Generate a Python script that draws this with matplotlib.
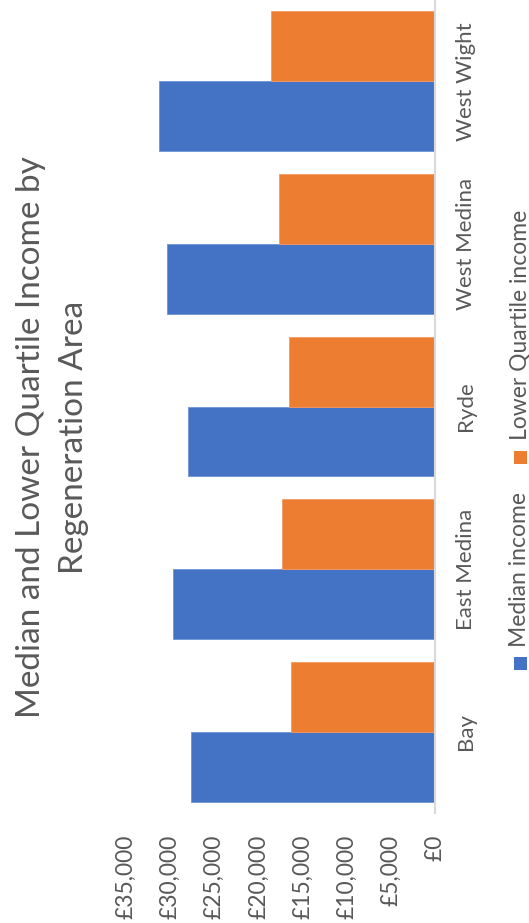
import matplotlib
matplotlib.use("Agg")
import matplotlib.pyplot as plt
from matplotlib.patches import Rectangle
import numpy as np

categories = ["Bay", "East Medina", "Ryde", "West Medina", "West Wight"]
median_income = [27650, 29650, 27950, 30300, 31250]
lower_quartile_income = [16350, 17300, 16550, 17650, 18600]
series_names = ["Median income", "Lower Quartile income"]
xticks = [0, 5000, 10000, 15000, 20000, 25000, 30000, 35000]
xtick_labels = ["£0", "£5,000", "£10,000", "£15,000", "£20,000", "£25,000", "£30,000", "£35,000"]
title_lines = ["Median and Lower Quartile Income by", "Regeneration Area"]

BLUE = "#4472C4"
ORANGE = "#ED7D31"
TXT = "#595959"
FONT = ["Lato", "DejaVu Sans"]
plt.rcParams["font.family"] = FONT

W, H = 529, 923
fig = plt.figure(figsize=(W / 100, H / 100), dpi=100)
ax = fig.add_axes([126 / W, 1 - 813 / H, (435 - 126) / W, 813 / H])

y = np.arange(len(categories))
h = 0.43
ax.barh(y - h / 2, median_income, height=h, color=BLUE, edgecolor="#6f93d6", linewidth=0.6)
ax.barh(y + h / 2, lower_quartile_income, height=h, color=ORANGE, edgecolor="#f29a62", linewidth=0.6)

ax.set_xlim(35000, 0)
ax.set_ylim(-0.5, len(categories) - 0.5)
ax.set_xticks(xticks)
ax.set_xticklabels(xtick_labels, rotation=90, fontsize=16.5, color=TXT)
ax.set_yticks(y)
ax.set_yticklabels(categories, rotation=90, fontsize=16, color=TXT, va="center")
ax.yaxis.tick_right()
ax.tick_params(axis="both", length=0)
ax.tick_params(axis="x", pad=22 * 0.72)
ax.tick_params(axis="y", pad=21 * 0.72)
for s in ["top", "left", "bottom"]:
    ax.spines[s].set_visible(False)
ax.spines["right"].set_color("#D9D9D9")
ax.spines["right"].set_linewidth(1.5)

for line, xc in zip(title_lines, [31, 74]):
    fig.text(xc / W, 1 - 437 / H, line, rotation=90, ha="center", va="center",
             fontsize=24, color=TXT)

# legend (rotated)
sq = 13
for name, col, sy, ty in [(series_names[0], BLUE, 663, 647), (series_names[1], ORANGE, 457, 440)]:
    fig.patches.append(Rectangle(((520 - sq / 2) / W, 1 - (sy + sq / 2) / H), sq / W, sq / H,
                                 transform=fig.transFigure, facecolor=col, edgecolor="none"))
    fig.text(520 / W, 1 - ty / H, name, rotation=90, ha="center", va="bottom",
             fontsize=16.5, color=TXT)

fig.savefig("out.png", dpi=100)
